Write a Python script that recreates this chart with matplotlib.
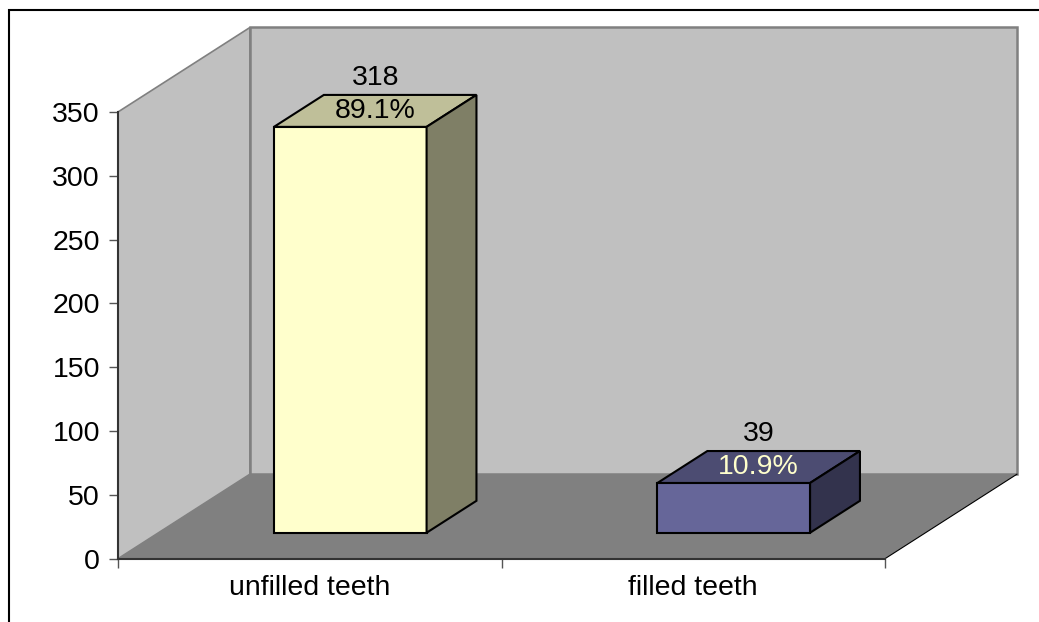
import matplotlib.pyplot as plt
from matplotlib.patches import Polygon, Rectangle

plt.rcParams["font.family"] = ["Liberation Sans", "DejaVu Sans"]

categories = ["unfilled teeth", "filled teeth"]
counts = [318, 39]
percents = ["89.1%", "10.9%"]
yticks = [0, 50, 100, 150, 200, 250, 300, 350]

front_colors = ["#FFFFCC", "#666699"]
top_colors = ["#BFBF99", "#4C4C72"]
side_colors = ["#7F7F66", "#33334D"]
pct_colors = ["black", "#FFFFCC"]

YMAX = 350
DX, DY = 0.344, 66.2   # offset of the back wall (data units)
Z0, Z1 = 0.307, 0.685  # front / back depth of the boxes
HALF = 0.199           # half width of a box
FS = 20.5


def proj(x, y, z):
    # fake oblique projection: push points back and up with depth z in [0, 1]
    return (x + z * DX, y + z * DY)


def face(ax, pts, fc, ec, lw=1.0, z=1):
    ax.add_patch(Polygon([proj(*p) for p in pts], closed=True, facecolor=fc,
                         edgecolor=ec, linewidth=lw, clip_on=False, zorder=z))


fig = plt.figure(figsize=(10.39, 6.22), dpi=100)
ax = fig.add_axes([0.1136, 0.1018, 0.7382, 0.7182])
n = len(categories)
ax.set_xlim(0, n)
ax.set_ylim(0, YMAX)
ax.patch.set_visible(False)

# walls and floor
face(ax, [(0, 0, 0), (0, YMAX, 0), (0, YMAX, 1), (0, 0, 1)], "#C0C0C0", "#808080", 1.2, 0)
face(ax, [(0, 0, 1), (0, YMAX, 1), (n, YMAX, 1), (n, 0, 1)], "#C0C0C0", "#808080", 1.8, 0)
face(ax, [(0, 0, 0), (n, 0, 0), (n, 0, 1), (0, 0, 1)], "#808080", "none", 0, 0)
ax.plot(*zip(proj(n, 0, 0), proj(n, 0, 1)), color="black", lw=0.8, clip_on=False, zorder=1)

# boxes
for i, v in enumerate(counts):
    x0, x1 = i + 0.5 - HALF, i + 0.5 + HALF
    face(ax, [(x0, 0, Z0), (x1, 0, Z0), (x1, v, Z0), (x0, v, Z0)], front_colors[i], "black", 1.5, 3)
    face(ax, [(x0, v, Z0), (x1, v, Z0), (x1, v, Z1), (x0, v, Z1)], top_colors[i], "black", 1.5, 3)
    face(ax, [(x1, 0, Z0), (x1, 0, Z1), (x1, v, Z1), (x1, v, Z0)], side_colors[i], "black", 1.5, 3)

    zc = (Z0 + Z1) / 2
    cx, cy = proj(i + 0.5, v, zc)
    ax.annotate(percents[i], (cx, cy), ha="center", va="center", fontsize=FS,
                color=pct_colors[i], zorder=5, annotation_clip=False)
    ax.annotate(str(v), (cx, cy), xytext=(0, 23.5), textcoords="offset points",
                ha="center", va="center", fontsize=FS, color="black", zorder=5,
                annotation_clip=False)

# axes
for s in ["top", "right"]:
    ax.spines[s].set_visible(False)
for s in ["left", "bottom"]:
    ax.spines[s].set_color("#333333")
    ax.spines[s].set_linewidth(1.5)
    ax.spines[s].set_zorder(2)

ax.set_yticks(yticks)
ax.tick_params(axis="y", direction="out", length=6.5, width=1, color="#555555",
               labelsize=FS, pad=6.5)
ax.set_xticks(range(n + 1))
ax.set_xticklabels([])
ax.tick_params(axis="x", which="major", direction="out", length=6.5, width=1, color="#555555")
ax.set_xticks([i + 0.5 for i in range(n)], minor=True)
ax.set_xticklabels(categories, minor=True)
ax.tick_params(axis="x", which="minor", length=0, labelsize=FS, pad=12)

# chart frame
fig.add_artist(Rectangle((9 / 1039, -0.1), 1.2, 1 - 10 / 622 + 0.1, transform=fig.transFigure,
                         fill=False, edgecolor="black", linewidth=1.5))

fig.savefig("out.png", dpi=100, facecolor="white")
